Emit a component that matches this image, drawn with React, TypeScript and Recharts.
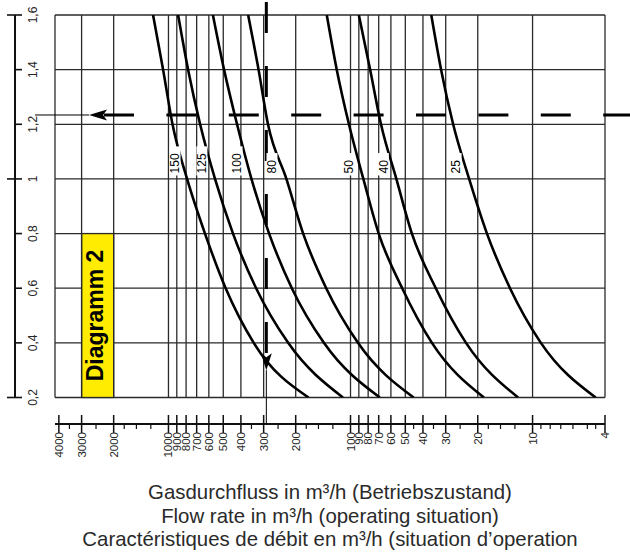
import React from "react";
import {
  ComposedChart,
  Line,
  XAxis,
  YAxis,
  CartesianGrid,
  ReferenceLine,
  ReferenceArea,
  ReferenceDot,
} from "recharts";

const levels = [1.6, 1.4, 1.2, 1.0, 0.8, 0.6, 0.4, 0.2];

// flow rate (m³/h) of each curve at those levels
const flow150 = [1215, 1070, 950, 790, 630, 485, 340, 170];
const flow125 = [885, 780, 670, 555, 442, 330, 220, 110];
const flow100 = [570, 495, 420, 350, 280, 210, 140, 69];
const flow80 = [365, 320, 284, 225, 182, 136, 91, 45];
const flow50 = [135, 119, 102, 85, 70, 52, 35.7, 18.5];
const flow40 = [90, 78, 68, 56, 46, 34, 23.2, 12];
const flow25 = [36, 31.8, 27.3, 22.3, 17.8, 13.3, 9.0, 4.5];

const curveNames = ["150", "125", "100", "80", "50", "40", "25"];
const curveFlows = [flow150, flow125, flow100, flow80, flow50, flow40, flow25];
const labelFlows = [920, 655, 420, 270, 102, 66, 26.3];
const labelLevel = 1.02;

const yTicks = [0.2, 0.4, 0.6, 0.8, 1, 1.2, 1.4, 1.6];
const yMajor = [0.2, 1, 1.6];

const xMajor = [4000, 3000, 2000, 1000, 900, 800, 700, 600, 500, 400, 300, 200, 100, 90, 80, 70, 60, 50, 40, 30, 20, 10, 4];
const xMinor = [3500, 2500, 1750, 1500, 1250, 350, 250, 175, 150, 125, 45, 35, 25, 17.5, 15, 12.5, 9, 8, 7, 6, 5, 4.5];
const gridFlows = [4200, 3000, 2000, 1000, 900, 800, 700, 600, 500, 400, 300, 200, 100, 90, 80, 70, 60, 50, 40, 30, 20, 10, 4];

// worked example: 290 m³/h read at 1.234
const exampleFlow = 290;
const exampleLevel = 1.234;

const titles = [
  "Gasdurchfluss in m³/h (Betriebszustand)",
  "Flow rate in m³/h (operating situation)",
  "Caractéristiques de débit en m³/h (situation d’operation",
];

const W = 630;
const H = 553;
const margin = { top: 15, right: 25, bottom: 95.5, left: 15 };
const Y_AXIS_W = 40;
const X_AXIS_H = 60;
const plotBottom = H - margin.bottom - X_AXIS_H;
const xLineY = plotBottom + 26.5;
const font = '"Liberation Sans", Arial, Helvetica, sans-serif';
const ink = "#111";
const labelInk = "#262626";
const gridInk = "#2a2a2a";

// values outside the plot used for the detached axis lines
const yAxisFlow = 6965;
const xAxisLevel = 0.103;

function YTick({ y, payload }: any) {
  const v = payload.value as number;
  const x0 = margin.left;
  const major = yMajor.includes(v);
  return (
    <g>
      <line x1={major ? x0 - 8 : x0} x2={x0 + 7} y1={y} y2={y} stroke={ink} strokeWidth={1.6} />
      <text
        transform={`translate(${x0 + 18},${y}) rotate(-90)`}
        textAnchor="middle"
        dy={4.2}
        fontSize={12}
        fontFamily={font}
        fill={labelInk}
      >
        {String(v).replace(".", ",")}
      </text>
    </g>
  );
}

function XTick({ x, payload }: any) {
  const v = payload.value as number;
  const major = xMajor.includes(v);
  return (
    <g>
      <line
        x1={x}
        x2={x}
        y1={major ? xLineY - 9 : xLineY}
        y2={major ? xLineY + 9 : xLineY + 5}
        stroke={ink}
        strokeWidth={major ? 1.5 : 1.2}
      />
      {major && (
        <text
          transform={`translate(${x},${xLineY + 8}) rotate(-90)`}
          textAnchor="end"
          dy={4}
          fontSize={11.5}
          fontFamily={font}
          fill={labelInk}
        >
          {v}
        </text>
      )}
    </g>
  );
}

function CurveLabel({ cx, cy, text }: any) {
  const len = text.length * 6.7;
  return (
    <g transform={`translate(${cx},${cy}) rotate(-90)`}>
      <rect x={-2} y={-5.5} width={len + 9} height={11} fill="#fff" />
      <text x={0} y={0} dy={4.3} fontSize={12} fontFamily={font} fill="#000">
        {text}
      </text>
    </g>
  );
}

function ArrowLeft({ cx, cy }: any) {
  return <path d={`M${cx},${cy} L${cx + 18},${cy - 5.5} L${cx + 14},${cy} L${cx + 18},${cy + 5.5} Z`} fill="#000" />;
}

function ArrowDown({ cx, cy }: any) {
  return <path d={`M${cx},${cy} L${cx - 5.5},${cy - 17} L${cx},${cy - 13} L${cx + 5.5},${cy - 17} Z`} fill="#000" />;
}

function DiagramBox({ x, y, width, height }: any) {
  const cx = x + width / 2;
  const cy = y + height / 2;
  return (
    <g>
      <rect x={x} y={y} width={width} height={height} fill="#FFEC00" stroke={gridInk} strokeWidth={1.3} />
      <text
        transform={`translate(${cx},${cy}) rotate(-90)`}
        textAnchor="middle"
        dy={5.5}
        fontSize={23}
        fontWeight="bold"
        fontFamily={font}
        fill="#000"
      >
        Diagramm 2
      </text>
    </g>
  );
}

export default function App() {
  return (
    <div style={{ position: "absolute", left: 0, top: 0, width: W, height: H, background: "#fff" }}>
      <ComposedChart width={W} height={H} margin={margin}>
        <CartesianGrid vertical={false} stroke={gridInk} strokeWidth={1.3} />
        <XAxis
          dataKey="q"
          type="number"
          scale="log"
          domain={[4, 4200]}
          reversed
          allowDataOverflow
          ticks={[...xMajor, ...xMinor]}
          interval={0}
          tick={(p: any) => <XTick {...p} />}
          tickLine={false}
          axisLine={false}
          height={X_AXIS_H}
        />
        <YAxis
          type="number"
          domain={[0.2, 1.6]}
          allowDataOverflow
          ticks={yTicks}
          interval={0}
          tick={(p: any) => <YTick {...p} />}
          tickLine={false}
          axisLine={false}
          width={Y_AXIS_W}
        />

        {gridFlows.map((q) => (
          <ReferenceLine key={`g${q}`} x={q} stroke={gridInk} strokeWidth={1.3} ifOverflow="visible" />
        ))}

        <ReferenceArea
          x1={3000}
          x2={2000}
          y1={0.2}
          y2={0.8}
          ifOverflow="visible"
          shape={(p: any) => <DiagramBox {...p} />}
        />

        {curveNames.map((name, i) => (
          <ReferenceDot
            key={`l${name}`}
            x={labelFlows[i]}
            y={labelLevel}
            r={0}
            ifOverflow="visible"
            shape={(p: any) => <CurveLabel {...p} text={name} />}
          />
        ))}

        {curveFlows.map((flows, i) => (
          <Line
            key={`c${curveNames[i]}`}
            data={flows.map((q, j) => ({ q, y: levels[j] }))}
            dataKey="y"
            type="monotone"
            stroke="#000"
            strokeWidth={2.6}
            dot={false}
            activeDot={false}
            isAnimationActive={false}
          />
        ))}

        {/* worked example */}
        <ReferenceLine
          segment={[
            { x: 2260, y: exampleLevel },
            { x: 2.9, y: exampleLevel },
          ]}
          stroke="#000"
          strokeWidth={3}
          strokeDasharray="30 32.4"
          ifOverflow="visible"
        />
        <ReferenceLine
          segment={[
            { x: 5410, y: exampleLevel },
            { x: 2730, y: exampleLevel },
          ]}
          stroke="#000"
          strokeWidth={1}
          ifOverflow="visible"
        />
        <ReferenceDot x={2730} y={exampleLevel} r={0} ifOverflow="visible" shape={(p: any) => <ArrowLeft {...p} />} />
        <ReferenceLine
          segment={[
            { x: exampleFlow, y: 1.648 },
            { x: exampleFlow, y: 0.363 },
          ]}
          stroke="#000"
          strokeWidth={3}
          strokeDasharray="31 33"
          ifOverflow="visible"
        />
        <ReferenceLine
          segment={[
            { x: exampleFlow, y: 0.3 },
            { x: exampleFlow, y: xAxisLevel },
          ]}
          stroke="#000"
          strokeWidth={1}
          ifOverflow="visible"
        />
        <ReferenceDot x={exampleFlow} y={0.3} r={0} ifOverflow="visible" shape={(p: any) => <ArrowDown {...p} />} />

        {/* detached axis lines */}
        <ReferenceLine
          segment={[
            { x: yAxisFlow, y: 0.2 },
            { x: yAxisFlow, y: 1.6 },
          ]}
          stroke={ink}
          strokeWidth={2}
          ifOverflow="visible"
        />
        <ReferenceLine
          segment={[
            { x: 4200, y: xAxisLevel },
            { x: 4, y: xAxisLevel },
          ]}
          stroke={ink}
          strokeWidth={2}
          ifOverflow="visible"
        />
      </ComposedChart>
      <svg
        width={W}
        height={H}
        style={{ position: "absolute", left: 0, top: 0, pointerEvents: "none" }}
      >
        {titles.map((t, i) => (
          <text
            key={t}
            x={330}
            y={499 + i * 23.5}
            textAnchor="middle"
            fontSize={20.4}
            fontFamily={font}
            fill="#2a2a2a"
          >
            {t}
          </text>
        ))}
      </svg>
    </div>
  );
}
